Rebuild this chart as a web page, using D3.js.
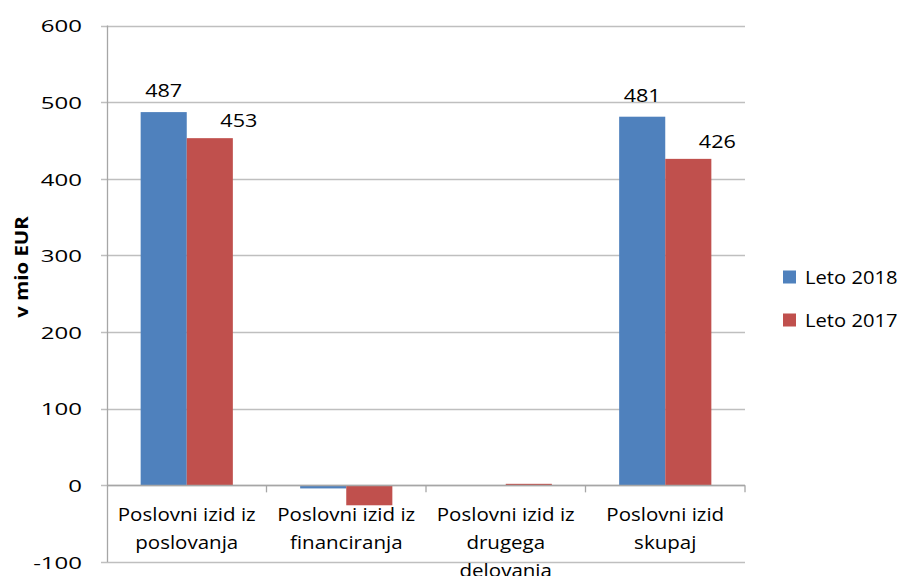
<!DOCTYPE html>
<html>
<head>
<meta charset="utf-8">
<script src="https://cdn.jsdelivr.net/npm/d3@7"></script>
<style>
  html, body { margin: 0; padding: 0; background: #fff; }
  svg { display: block; font-family: "Open Sans", "Noto Sans", sans-serif; }
</style>
</head>
<body>
<svg id="canvas" width="902" height="576"></svg>
<script>
'use strict';

/* chart data */
const categories = [
  ['Poslovni izid iz', 'poslovanja'],
  ['Poslovni izid iz', 'financiranja'],
  ['Poslovni izid iz', 'drugega', 'delovanja'],
  ['Poslovni izid', 'skupaj']
];
const seriesNames = ['Leto 2018', 'Leto 2017'];
const values2018 = [487, -4, 0, 481];
const values2017 = [453, -26, 2, 426];
/* data labels shown in the reference (small values have none) */
const labels2018 = ['487', '', '', '481'];
const labels2017 = ['453', '', '', '426'];
const yTicks = [-100, 0, 100, 200, 300, 400, 500, 600];

const colors = ['#4F81BD', '#C0504D'];
const margin = {top: 25.5, right: 157, bottom: 14, left: 107};
const width = 902, height = 576;

const svg = d3.select('svg#canvas');

/* scales */
const y = d3.scaleLinear()
  .domain([-100, 600])
  .range([height - margin.bottom, margin.top]);

const catKeys = categories.map((c, i) => i);
const x0 = d3.scaleBand()
  .domain(catKeys)
  .range([margin.left, width - margin.right])
  .paddingInner(0)
  .paddingOuter(0);

const x1 = d3.scaleBand()
  .domain([0, 1])
  .range([0, x0.bandwidth()])
  .paddingInner(0)
  .paddingOuter(0.73);

/* horizontal gridlines */
svg.append('g')
  .attr('id', 'grid')
  .selectAll('line')
  .data(yTicks)
  .join('line')
    .attr('x1', margin.left - 6)
    .attr('x2', width - margin.right)
    .attr('y1', d => Math.round(y(d)) + 0.5)
    .attr('y2', d => Math.round(y(d)) + 0.5)
    .attr('stroke', '#BFBFBF')
    .attr('stroke-width', 1.3);

/* left axis: line and tick labels (plain hyphen for negatives) */
const yAxis = d3.axisLeft(y)
  .tickValues(yTicks)
  .tickFormat(d => String(d))
  .tickSize(0)
  .tickPadding(0);
const gy = svg.append('g')
  .attr('id', 'left-axis')
  .attr('transform', 'translate(' + margin.left + ',0)')
  .call(yAxis);
gy.select('.domain').remove();
gy.selectAll('text')
  .attr('x', null)
  .attr('dy', null)
  .attr('font-family', '"Open Sans", sans-serif')
  .attr('font-size', 16)
  .attr('fill', '#000')
  .attr('text-anchor', 'end')
  .attr('dominant-baseline', 'central')
  .attr('transform', 'translate(-25,0) scale(1.5,1)');

svg.append('line')
  .attr('x1', margin.left + 0.5)
  .attr('x2', margin.left + 0.5)
  .attr('y1', y(600))
  .attr('y2', y(-100))
  .attr('stroke', '#A6A6A6')
  .attr('stroke-width', 1.3);

/* axis title */
svg.append('text')
  .attr('transform', 'translate(21,267) rotate(-90) scale(1.2,1)')
  .attr('text-anchor', 'middle')
  .attr('dominant-baseline', 'central')
  .attr('font-weight', 'bold')
  .attr('font-size', 17)
  .text('v mio EUR');

/* bars */
const rows = catKeys.map(i => ({i: i, vals: [values2018[i], values2017[i]],
  labels: [labels2018[i], labels2017[i]]}));

const groups = svg.append('g')
  .attr('id', 'bars')
  .selectAll('g')
  .data(rows)
  .join('g')
    .attr('transform', d => 'translate(' + x0(d.i) + ',0)');

groups.selectAll('rect')
  .data(d => d.vals.map((v, s) => ({s: s, v: v})))
  .join('rect')
    .attr('x', d => x1(d.s))
    .attr('width', x1.bandwidth())
    .attr('y', d => y(Math.max(0, d.v)))
    .attr('height', d => Math.abs(y(d.v) - y(0)))
    .attr('fill', d => colors[d.s]);

/* zero line and category ticks */
svg.append('line')
  .attr('x1', margin.left)
  .attr('x2', width - margin.right)
  .attr('y1', Math.round(y(0)) + 0.5)
  .attr('y2', Math.round(y(0)) + 0.5)
  .attr('stroke', '#A6A6A6')
  .attr('stroke-width', 1.5);

svg.append('g')
  .selectAll('line')
  .data(catKeys.slice(1).concat([categories.length]))
  .join('line')
    .attr('x1', d => (d < categories.length ? x0(d) : width - margin.right))
    .attr('x2', d => (d < categories.length ? x0(d) : width - margin.right))
    .attr('y1', y(0))
    .attr('y2', y(0) + 7)
    .attr('stroke', '#A6A6A6')
    .attr('stroke-width', 1.3);

/* data labels: 2018 centered above the bar, 2017 shifted right (as in reference) */
groups.selectAll('text.value')
  .data(d => d.labels.map((t, s) => ({s: s, t: t, v: d.vals[s]})).filter(d => d.t !== ''))
  .join('text')
    .attr('class', 'value')
    .attr('transform', d => 'translate(' + (x1(d.s) + x1.bandwidth() / 2 + (d.s === 1 ? 29 : 0)) + ','
      + (y(d.v) - (d.s === 1 ? 11 : 15)) + ') scale(1.2,1)')
    .attr('text-anchor', 'middle')
    .attr('font-size', 18)
    .attr('fill', '#000')
    .text(d => d.t);

/* category labels */
svg.append('g')
  .attr('id', 'bottom-axis')
  .selectAll('text')
  .data(rows)
  .join('text')
    .attr('text-anchor', 'middle')
    .attr('font-size', 19)
    .attr('fill', '#000')
    .attr('transform', d => 'translate(' + (x0(d.i) + x0.bandwidth() / 2) + ',0) scale(1.08,1)')
    .selectAll('tspan')
    .data(d => categories[d.i])
    .join('tspan')
      .attr('x', 0)
      .attr('y', (d, k) => 521 + k * 28)
      .text(d => d);

/* legend */
const legend = svg.append('g')
  .attr('id', 'legend')
  .selectAll('g')
  .data(seriesNames)
  .join('g')
    .attr('transform', (d, i) => 'translate(783,' + (277 + i * 43) + ')');
legend.append('rect')
  .attr('x', 0)
  .attr('y', -6.5)
  .attr('width', 13)
  .attr('height', 13)
  .attr('fill', (d, i) => colors[i]);
legend.append('text')
  .attr('transform', 'translate(22,0) scale(1.12,1)')
  .attr('dominant-baseline', 'central')
  .attr('font-size', 18)
  .attr('fill', '#000')
  .text(d => d);
</script>
</body>
</html>
